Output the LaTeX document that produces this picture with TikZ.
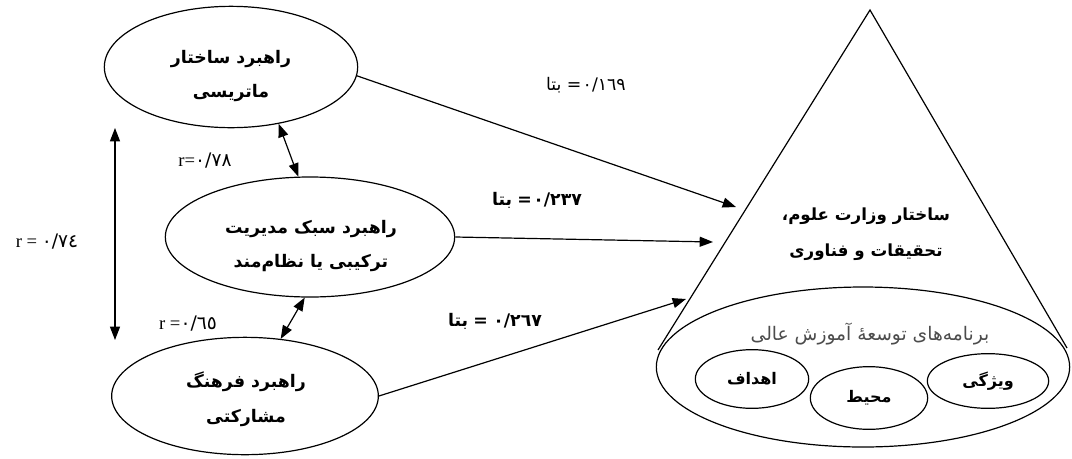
\documentclass[tikz,border=0pt]{standalone}
\usepackage{fontspec}
\setmainfont{Liberation Serif}
\newfontfamily\arabicfont[Script=Arabic]{DejaVu Sans}
\TeXXeTstate=1
\usetikzlibrary{arrows.meta,shapes.geometric}
\newcommand{\fa}[1]{\beginR #1\endR}
% #1 number, #2 gap after number, #3 gap before the word
\newcommand{\betalbl}[3]{\beginR\hbox{#1}\hspace{#2}\hbox{=}\hspace{#3}\hbox{بتا}\endR}
\tikzset{
  oval/.style={draw, ellipse, line width=0.9pt, inner sep=0pt},
  ovaltext/.style={align=center, font=\arabicfont\bfseries\fontsize{13}{26}\selectfont},
  smalltext/.style={font=\arabicfont\bfseries\fontsize{12}{14}\selectfont},
  corr/.style={font=\fontsize{14}{16}\selectfont},
  beta/.style={font=\arabicfont\fontsize{13}{15}\selectfont},
  boldbeta/.style={font=\arabicfont\bfseries\fontsize{13}{15}\selectfont},
  link/.style={line width=0.9pt, -{Triangle[length=10pt,width=7.5pt]}},
  both/.style={line width=0.9pt, {Triangle[length=10pt,width=7.5pt]}-{Triangle[length=10pt,width=7.5pt]}}
}
\begin{document}
\begin{tikzpicture}[x=0.75pt, y=-0.75pt]
			%%%%% START %%%%%
			\useasboundingbox (0,0) rectangle (1072,458);
			
			% strategies
			\node[oval, minimum width=190pt, minimum height=91pt] (mat) at (231,67) {};
			\node[ovaltext] (matTxt) at (231,76) {\fa{راهبرد ساختار}\\\fa{ماتریسی}};
			\node[oval, minimum width=217pt, minimum height=90pt] (mgmt) at (310,237) {};
			\node[ovaltext] (mgmtTxt) at (311,246) {\fa{راهبرد سبک مدیریت}\\\fa{ترکیبی یا نظام‌مند}};
			\node[oval, minimum width=200pt, minimum height=88pt] (cult) at (245,396) {};
			\node[ovaltext] (cultTxt) at (246,399) {\fa{راهبرد فرهنگ}\\\fa{مشارکتی}};
			
			% cone
			\coordinate (apex) at (870,10);
			\coordinate (coneL) at (658,350);
			\coordinate (coneR) at (1067,348);
			\draw[line width=0.9pt] (coneL) -- (apex) -- (coneR);
			\node[oval, fill=white, minimum width=310pt, minimum height=120pt] (base) at (863,367) {};
			\node[ovaltext, font=\arabicfont\bfseries\fontsize{12.5}{27}\selectfont] (mstr) at (866,234)
			  {\fa{ساختار وزارت علوم،}\\\fa{تحقیقات و فناوری}};
			\node[font=\arabicfont\fontsize{14}{16}\selectfont, text=black!70] (prog) at (870,334)
			  {\fa{برنامه‌های توسعهٔ آموزش عالی}};
			\node[oval, smalltext, minimum width=85pt, minimum height=44pt] (goal) at (752,379) {\fa{اهداف}};
			\node[oval, smalltext, minimum width=88pt, minimum height=47pt] (env) at (869,398) {\fa{محیط}};
			\node[oval, smalltext, minimum width=91pt, minimum height=41pt] (feat) at (988,381) {\fa{ویژگی}};
			
			% paths to the cone
			\coordinate (in1) at (736,207);
			\coordinate (in2) at (713,242);
			\coordinate (in3) at (686,299);
			\draw[link] (mat.-4) -- (in1);
			\draw[link] (mgmt.east) -- (in2);
			\draw[link] (cult.east) -- (in3);
			\node[beta] (b1) at (586,85) {\betalbl{٠/١٦٩}{1pt}{4pt}};
			\node[boldbeta] (b2) at (537,200) {\betalbl{٠/٢٣٧}{1pt}{4pt}};
			\node[boldbeta] (b3) at (495,321) {\betalbl{٠/٢٦٧}{4pt}{4pt}};
			
			% correlations
			\draw[both] (mat.-50) -- (mgmt.101);
			\draw[both] (mgmt.-95) -- (cult.58);
			\coordinate (rTop) at (115,128);
			\coordinate (rBot) at (115,340);
			\draw[both] (rTop) -- (rBot);
			\node[corr] (r0) at (47,242) {r = {\arabicfont ٠/٧٤}};
			\node[corr] (r1) at (205,161) {r={\arabicfont ٠/٧٨}};
			\node[corr] (r2) at (188,324) {r ={\arabicfont ٠/٦٥}};
			%%%%% END %%%%%
\end{tikzpicture}
\end{document}
